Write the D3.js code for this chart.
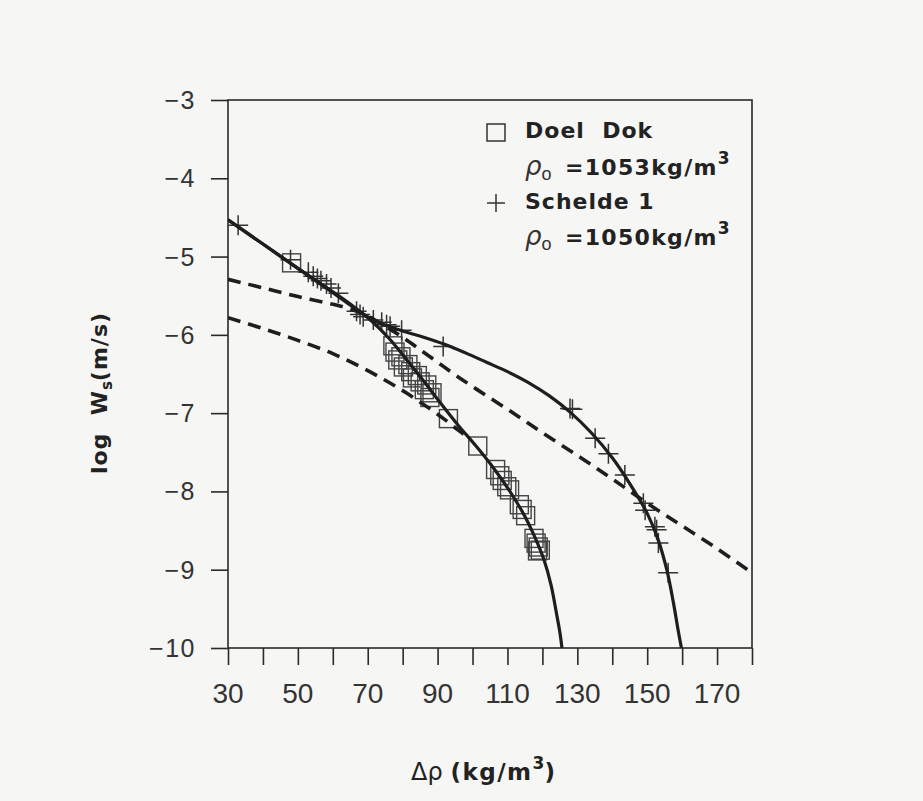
<!DOCTYPE html>
<html>
<head>
    <meta charset="utf-8">
    <title>log Ws against density difference</title>
    <script src="https://d3js.org/d3.v7.min.js"></script>
    <style>
        body {
            margin: 0;
            background: #f6f6f4;
        }
        .tick-label {
            font-family: 'Liberation Sans', Arial, sans-serif;
            fill: #333;
        }
        .bold {
            font-family: 'DejaVu Sans', sans-serif;
            font-weight: bold;
            fill: #222;
        }
    </style>
</head>
<body>
    <svg id='chart' width="923" height="801"></svg>

    <script>
        // tick values and labels
        const xTickValues = [30, 40, 50, 60, 70, 80, 90, 100, 110, 120, 130, 140, 150, 160, 170, 180];
        const xTickLabels = [30, 50, 70, 90, 110, 130, 150, 170];
        const yTickValues = [-3, -4, -5, -6, -7, -8, -9, -10];

        // measured points [delta rho, log Ws]
        const doelDokPoints = [
            [48.2, -5.08], [77.2, -6.14], [77.8, -6.22], [78.6, -6.32], [79.5, -6.28],
            [80.2, -6.41], [81.5, -6.38], [82.3, -6.47], [82.8, -6.55], [84.2, -6.52],
            [85.0, -6.60], [86.2, -6.70], [86.9, -6.64], [87.8, -6.80], [88.4, -6.74],
            [93.1, -7.07], [101.5, -7.42], [106.6, -7.72], [107.8, -7.80], [108.5, -7.86],
            [109.8, -7.94], [110.6, -7.98], [113.4, -8.17], [114.2, -8.23], [115.2, -8.31],
            [117.6, -8.60], [118.2, -8.66], [118.8, -8.71], [119.4, -8.75], [118.6, -8.76]
        ];
        const schelde1Points = [
            [32.9, -4.60], [47.9, -5.04], [53.0, -5.20], [54.4, -5.25], [55.6, -5.28],
            [56.6, -5.31], [58.2, -5.35], [59.5, -5.40], [61.6, -5.47], [66.8, -5.70],
            [67.8, -5.74], [68.7, -5.77], [71.6, -5.81], [74.0, -5.84], [75.4, -5.87],
            [76.4, -5.89], [79.7, -5.94], [91.6, -6.15], [127.9, -6.94], [128.6, -6.95],
            [135.1, -7.32], [138.9, -7.52], [143.6, -7.79], [148.9, -8.15], [149.4, -8.24],
            [152.2, -8.45], [152.7, -8.49], [153.2, -8.66], [156.0, -9.04]
        ];

        // fitted curves (solid) and model curves (dashed)
        const doelDokFit = [
            [30, -4.53], [40, -4.84], [50, -5.15], [60, -5.45], [66, -5.64], [71, -5.82],
            [76, -6.04], [81, -6.31], [86, -6.59], [91, -6.88], [96, -7.16], [101, -7.42],
            [106, -7.70], [111, -8.02], [115, -8.32], [118, -8.60], [120.5, -8.88],
            [122.5, -9.20], [124, -9.55], [125, -9.80], [125.6, -10]
        ];
        const schelde1Fit = [
            [30, -4.53], [40, -4.84], [50, -5.15], [60, -5.46], [66, -5.65], [72, -5.82],
            [80, -5.95], [86, -6.03], [92, -6.12], [98, -6.23], [104, -6.35], [110, -6.47],
            [116, -6.61], [122, -6.78], [128, -6.99], [134, -7.25], [140, -7.57], [145, -7.90],
            [150, -8.28], [153, -8.60], [155.6, -9.00], [157.5, -9.42], [158.8, -9.76], [159.8, -10]
        ];
        const modelUpper = [
            [30, -5.29], [40, -5.40], [50, -5.51], [60, -5.61], [65, -5.67], [70, -5.76],
            [75, -5.89], [80, -6.03], [85, -6.19], [90, -6.35], [95, -6.51], [101, -6.69],
            [111, -6.98], [121, -7.28], [131, -7.57], [140, -7.84], [150, -8.15], [160, -8.44],
            [170, -8.73], [180, -9.04]
        ];
        const modelLower = [
            [30, -5.78], [40, -5.92], [50, -6.07], [60, -6.24], [68, -6.41], [75, -6.58],
            [81, -6.74], [87, -6.92], [92, -7.08], [96, -7.22], [99, -7.32]
        ];

        const plotLeft = 228, plotRight = 752, plotTop = 100, plotBottom = 648;
        const tickLen = 17;

        const svg = d3.select('#chart');
        const x = d3.scaleLinear().domain([30, 180]).range([plotLeft, plotRight]);
        const y = d3.scaleLinear().domain([-3, -10]).range([plotTop, plotBottom]);

        svg.append('defs').append('clipPath').attr('id', 'plot-clip')
            .append('rect')
            .attr('x', plotLeft).attr('y', plotTop)
            .attr('width', plotRight - plotLeft).attr('height', plotBottom - plotTop);

        // axes: left and bottom with outward ticks, plus top/right frame
        const yAxis = d3.axisLeft(y).tickValues(yTickValues).tickSize(tickLen).tickFormat('');
        const xAxis = d3.axisBottom(x).tickValues(xTickValues).tickSize(tickLen).tickFormat('');
        const axisY = svg.append('g').attr('transform', `translate(${plotLeft},0)`).call(yAxis);
        const axisX = svg.append('g').attr('transform', `translate(0,${plotBottom})`).call(xAxis);
        [axisY, axisX].forEach(a => {
            a.select('.domain').remove();
            a.selectAll('line').attr('stroke', '#2a2a2a').attr('stroke-width', 1.6);
        });
        svg.append('rect')
            .attr('x', plotLeft).attr('y', plotTop)
            .attr('width', plotRight - plotLeft).attr('height', plotBottom - plotTop)
            .attr('fill', 'none').attr('stroke', '#2a2a2a').attr('stroke-width', 1.6);

        svg.selectAll('.ylab')
            .data(yTickValues)
            .enter().append('text')
            .attr('class', 'tick-label')
            .attr('x', 196)
            .attr('y', d => y(d) + 9)
            .attr('text-anchor', 'end')
            .style('font-size', '25px')
            .style('letter-spacing', '1.5px')
            .text(d => '\u2212' + Math.abs(d));

        svg.selectAll('.xlab')
            .data(xTickLabels)
            .enter().append('text')
            .attr('class', 'tick-label')
            .attr('x', d => x(d))
            .attr('y', 703)
            .attr('text-anchor', 'middle')
            .style('font-size', '28px')
            .text(d => d);

        // markers
        const marks = svg.append('g').attr('clip-path', 'url(#plot-clip)');
        marks.selectAll('.sq')
            .data(doelDokPoints)
            .enter().append('rect')
            .attr('x', d => x(d[0]) - 9)
            .attr('y', d => y(d[1]) - 9)
            .attr('width', 18).attr('height', 18)
            .attr('fill', 'none').attr('stroke', '#444').attr('stroke-width', 1.4);
        marks.selectAll('.plus')
            .data(schelde1Points)
            .enter().append('path')
            .attr('d', d => `M${x(d[0]) - 10},${y(d[1])}h20M${x(d[0])},${y(d[1]) - 10}v20`)
            .attr('stroke', '#333').attr('stroke-width', 1.5);

        // curves
        const line = d3.line()
            .x(d => x(d[0]))
            .y(d => y(d[1]))
            .curve(d3.curveCatmullRom.alpha(0.5));
        const curves = svg.append('g').attr('clip-path', 'url(#plot-clip)');
        [doelDokFit, schelde1Fit].forEach(c => {
            curves.append('path').attr('d', line(c))
                .attr('fill', 'none').attr('stroke', '#1e1e1e').attr('stroke-width', 3.2);
        });
        [modelUpper, modelLower].forEach(c => {
            curves.append('path').attr('d', line(c))
                .attr('fill', 'none').attr('stroke', '#1e1e1e').attr('stroke-width', 3.6)
                .attr('stroke-dasharray', '13,8');
        });

        // legend
        svg.append('rect')
            .attr('x', 487).attr('y', 124).attr('width', 18).attr('height', 17)
            .attr('fill', 'none').attr('stroke', '#333').attr('stroke-width', 1.5);
        svg.append('path')
            .attr('d', 'M487,203h18M496,194v18')
            .attr('stroke', '#333').attr('stroke-width', 1.5);

        svg.append('text').attr('class', 'bold')
            .attr('x', 525).attr('y', 138)
            .style('font-size', '22px').style('letter-spacing', '1px')
            .style('white-space', 'pre')
            .text('Doel  Dok');
        svg.append('text').attr('class', 'bold')
            .attr('x', 525).attr('y', 209)
            .style('font-size', '22px').style('letter-spacing', '1px')
            .text('Schelde 1');

        function rhoLine(yPos, label) {
            const t = svg.append('text').attr('x', 525).attr('y', yPos);
            t.append('tspan')
                .style('font-family', "'DejaVu Sans', sans-serif")
                .style('font-style', 'italic').style('font-weight', '200')
                .style('font-size', '26px').style('fill', '#333')
                .text('\u03c1');
            t.append('tspan')
                .attr('dy', 5)
                .style('font-family', "'Liberation Sans', sans-serif")
                .style('font-size', '18px').style('fill', '#333')
                .text('o');
            t.append('tspan')
                .attr('class', 'bold')
                .attr('x', 565).attr('dy', -5)
                .style('font-size', '22px').style('letter-spacing', '1.3px')
                .text(label);
            t.append('tspan')
                .attr('class', 'bold')
                .attr('dy', -11)
                .style('font-size', '17px')
                .text('3');
        }
        rhoLine(175, '=1053kg/m');
        rhoLine(245, '=1050kg/m');

        // axis titles
        const xt = svg.append('text')
            .attr('x', 483).attr('y', 780)
            .attr('text-anchor', 'middle');
        xt.append('tspan')
            .style('font-family', "'DejaVu Sans', sans-serif")
            .style('font-size', '24px').style('fill', '#222')
            .text('\u0394\u03c1 ');
        xt.append('tspan').attr('class', 'bold')
            .style('font-size', '23px').style('letter-spacing', '1.5px')
            .text('(kg/m');
        xt.append('tspan').attr('class', 'bold')
            .attr('dy', -11).style('font-size', '17px')
            .text('3');
        xt.append('tspan').attr('class', 'bold')
            .attr('dy', 11).style('font-size', '23px')
            .text(')');

        const yt = svg.append('text')
            .attr('transform', 'translate(107,393) rotate(-90)')
            .attr('text-anchor', 'middle')
            .style('white-space', 'pre');
        yt.append('tspan').attr('class', 'bold')
            .style('font-size', '22px').style('letter-spacing', '1px')
            .text('log  W');
        yt.append('tspan').attr('class', 'bold')
            .attr('dy', 5).style('font-size', '15px')
            .text('s');
        yt.append('tspan').attr('class', 'bold')
            .attr('dy', -5).style('font-size', '22px').style('letter-spacing', '1px')
            .text('(m/s)');
    </script>
</body>
</html>
